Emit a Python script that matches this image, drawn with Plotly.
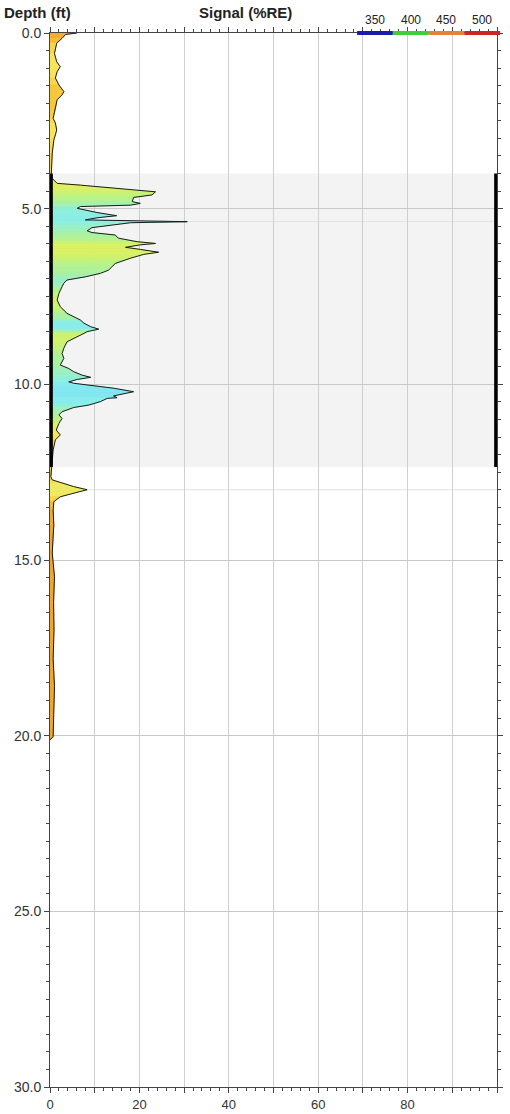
import plotly.graph_objects as go

# ---------------- data ----------------
depth_ft = [0.00, 0.04, 0.15, 0.29, 0.58, 0.82, 0.96, 1.10, 1.28, 1.48, 1.67, 1.76, 1.90, 2.19, 2.43,
            2.56, 2.76, 2.90, 3.05, 3.42, 3.80, 4.00, 4.14, 4.28, 4.33, 4.42, 4.49, 4.52, 4.61, 4.68,
            4.80, 4.85, 4.90, 4.94, 4.99, 5.11, 5.20, 5.26, 5.32, 5.35, 5.37, 5.40, 5.47, 5.54, 5.63,
            5.68, 5.75, 5.84, 5.94, 5.99, 6.03, 6.10, 6.16, 6.24, 6.30, 6.41, 6.56, 6.65, 6.75, 6.84,
            6.94, 7.03, 7.12, 7.22, 7.41, 7.60, 7.79, 7.98, 8.17, 8.26, 8.36, 8.43, 8.50, 8.55, 8.64,
            8.79, 8.97, 9.12, 9.26, 9.45, 9.55, 9.64, 9.74, 9.80, 9.86, 9.93, 9.97, 10.05, 10.11, 10.21,
            10.26, 10.33, 10.38, 10.40, 10.49, 10.59, 10.66, 10.78, 10.87, 10.97, 11.11, 11.30, 11.44,
            11.58, 11.87, 12.25, 12.63, 12.72, 12.82, 12.91, 13.00, 13.09, 13.20, 13.34, 13.58, 14.00,
            14.80, 15.48, 16.20, 17.00, 17.80, 18.60, 19.40, 20.03, 20.12]

signal_re = [6.0, 3.5, 2.7, 1.5, 1.0, 1.5, 2.3, 1.6, 1.2, 2.0, 3.1, 2.7, 1.6, 1.2, 0.7,
             1.2, 1.5, 1.2, 0.85, 0.5, 0.4, 0.3, 0.5, 1.6, 6.8, 14.0, 20.0, 23.6, 22.8, 18.7,
             18.4, 20.2, 18.0, 6.8, 6.1, 10.5, 14.9, 10.5, 7.9, 18.0, 30.7, 18.0, 13.0, 9.4, 8.3,
             9.4, 14.6, 15.3, 19.5, 23.6, 20.2, 16.9, 20.2, 24.3, 21.0, 18.0, 14.6, 13.9, 13.1, 11.3,
             7.9, 3.8, 3.1, 2.7, 2.0, 1.6, 2.3, 3.8, 6.8, 7.6, 9.1, 10.9, 8.3, 7.6, 6.1,
             3.8, 3.1, 2.7, 3.1, 2.3, 4.2, 5.3, 7.2, 9.1, 6.1, 4.2, 5.3, 10.5, 14.2, 18.7,
             16.5, 14.2, 15.0, 12.8, 11.3, 8.7, 5.3, 2.7, 2.0, 2.7, 2.0, 1.4, 2.3,
             1.2, 0.7, 0.5, 0.2, 0.5, 3.1, 5.3, 8.3, 5.3, 2.3, 0.85, 0.7, 0.85,
             0.5, 1.0, 0.8, 0.9, 0.7, 1.0, 0.8, 0.7, 0.0]

# dominant emission wavelength (nm) at each depth sample -> fill colour
wavelength_nm = [455, 455, 455, 445, 432, 432, 432, 432, 432, 445, 445, 445, 445, 445, 440,
                 432, 432, 432, 432, 438, 440, 440, 428, 425, 422, 418, 415, 412, 410, 406,
                 402, 398, 396, 394, 390, 388, 386, 386, 386, 386, 386, 388, 390, 392, 395,
                 398, 400, 402, 408, 414, 416, 418, 418, 418, 416, 412, 405, 403, 402, 400,
                 396, 392, 392, 395, 410, 414, 412, 405, 392, 385, 384, 386, 400, 410, 413,
                 413, 410, 402, 400, 400, 396, 394, 392, 390, 388, 386, 384, 382, 381, 380,
                 380, 381, 382, 383, 384, 386, 392, 398, 402, 405, 412, 425, 430,
                 435, 438, 440, 445, 440, 428, 425, 425, 426, 432, 445, 455, 458,
                 458, 458, 458, 458, 458, 458, 458, 458, 458]

legend_nm = [350, 400, 450, 500]
legend_colors = ["#1c1caa", "#3fcc3f", "#e3823a", "#cf2424"]

x_tick_vals = [0, 10, 20, 30, 40, 50, 60, 70, 80, 90, 100]
x_tick_text = ["0", "", "20", "", "40", "", "60", "", "80", "", ""]
y_tick_vals = [0, 5, 10, 15, 20, 25, 30]
y_tick_text = ["0.0", "5.0", "10.0", "15.0", "20.0", "25.0", "30.0"]

zone_top_ft, zone_bottom_ft = 4.0, 12.35
marker_depths_ft = [5.37, 13.0]

# ---------------- colour map (nm -> pastel fill) ----------------
stops = [(370, (120, 215, 250)), (385, (135, 238, 235)), (400, (170, 242, 160)),
         (415, (212, 242, 100)), (430, (247, 232, 95)), (445, (245, 200, 60)),
         (460, (240, 160, 50)), (500, (225, 70, 40))]


def nm_color(nm):
    if nm <= stops[0][0]:
        c = stops[0][1]
    elif nm >= stops[-1][0]:
        c = stops[-1][1]
    else:
        for (a, ca), (b, cb) in zip(stops[:-1], stops[1:]):
            if a <= nm <= b:
                t = (nm - a) / (b - a)
                c = tuple(ca[k] + (cb[k] - ca[k]) * t for k in range(3))
                break
    return "rgb(%d,%d,%d)" % tuple(int(round(v)) for v in c)


fig = go.Figure()

# coloured fill, one strip per depth interval
for i in range(len(depth_ft) - 1):
    col = nm_color((wavelength_nm[i] + wavelength_nm[i + 1]) / 2)
    fig.add_trace(go.Scatter(
        x=[0, signal_re[i], signal_re[i + 1], 0, 0],
        y=[depth_ft[i], depth_ft[i], depth_ft[i + 1], depth_ft[i + 1], depth_ft[i]],
        mode="lines", fill="toself", fillcolor=col,
        line=dict(color=col, width=0.8), hoverinfo="skip", showlegend=False))

# outline of the signal
fig.add_trace(go.Scatter(x=signal_re, y=depth_ft, mode="lines",
                         line=dict(color="#1a1a1a", width=1), showlegend=False))

shapes = [
    dict(type="rect", xref="x", yref="y", x0=0, x1=100, y0=zone_top_ft, y1=zone_bottom_ft,
         fillcolor="#f3f3f3", line=dict(width=0), layer="below"),
    dict(type="line", xref="x", yref="y", x0=0.3, x1=0.3, y0=zone_top_ft, y1=zone_bottom_ft,
         line=dict(color="black", width=3), layer="above"),
    dict(type="line", xref="x", yref="y", x0=99.7, x1=99.7, y0=zone_top_ft, y1=zone_bottom_ft,
         line=dict(color="black", width=3), layer="above"),
]
for d in marker_depths_ft:
    shapes.append(dict(type="line", xref="x", yref="y", x0=0, x1=100, y0=d, y1=d,
                       line=dict(color="#e2e2e2", width=1), layer="below"))

title_font = dict(family="Liberation Sans, Arial", size=15, color="#222")
annotations = [
    dict(text="<b>Depth (ft)</b>", xref="paper", yref="paper", x=0, y=1, xanchor="left",
         yanchor="middle", xshift=-48, yshift=21, showarrow=False, font=title_font),
    dict(text="<b>Signal (%RE)</b>", xref="paper", yref="paper", x=0.437, y=1, xanchor="center",
         yanchor="middle", yshift=21, showarrow=False, font=title_font),
]

# wavelength legend bar at top right
seg_w = 0.08
x_start = 0.687
for k, (nm, col) in enumerate(zip(legend_nm, legend_colors)):
    x0 = x_start + k * seg_w
    shapes.append(dict(type="line", xref="paper", yref="paper", x0=x0, x1=x0 + seg_w,
                       y0=1.0, y1=1.0, line=dict(color=col, width=4), layer="above"))
    annotations.append(dict(text=str(nm), xref="paper", yref="paper", x=x0 + seg_w / 2, y=1,
                            xanchor="center", yanchor="middle", yshift=13, showarrow=False,
                            font=dict(family="Liberation Sans, Arial", size=12, color="#222")))

fig.update_layout(
    width=510, height=1114,
    margin=dict(l=49.5, r=13, t=33, b=27),
    paper_bgcolor="white", plot_bgcolor="white",
    shapes=shapes, annotations=annotations, showlegend=False,
    font=dict(family="Liberation Sans, Arial", size=12, color="#333"),
)
fig.update_xaxes(range=[0, 100], tickmode="array", tickvals=x_tick_vals, ticktext=x_tick_text,
                 showgrid=True, gridcolor="#cfcfcf", gridwidth=1, zeroline=False, automargin=False,
                 showline=True, linecolor="#444", linewidth=1, mirror="allticks",
                 ticks="outside", ticklen=5, tickcolor="#444",
                 minor=dict(dtick=2, ticks="outside", ticklen=3, tickcolor="#444", showgrid=False),
                 tickfont=dict(size=13, color="#333"))
fig.update_yaxes(range=[30, 0], tickmode="array", tickvals=y_tick_vals, ticktext=y_tick_text,
                 showgrid=True, gridcolor="#c8c8c8", gridwidth=1, zeroline=False, automargin=False,
                 showline=True, linecolor="#444", linewidth=1, mirror="allticks",
                 ticks="outside", ticklen=5, tickcolor="#444",
                 minor=dict(dtick=0.5, ticks="outside", ticklen=3, tickcolor="#444", showgrid=False),
                 tickfont=dict(size=14, color="#333"))

fig.write_html("out.html", config={"displayModeBar": False},
               post_script="document.body.style.margin='0';document.body.style.overflow='hidden';")
